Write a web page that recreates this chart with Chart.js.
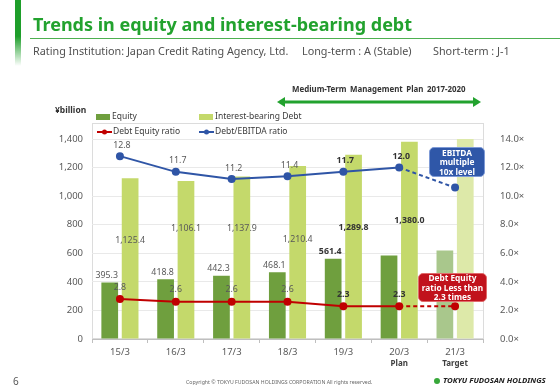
<!DOCTYPE html>
<html>
<head>
<meta charset="utf-8">
<script src="https://cdn.jsdelivr.net/npm/chart.js@4.4.1/dist/chart.umd.min.js"></script>
<style>
  body { margin: 0; width: 560px; height: 388px; background: #fff; position: relative; overflow: hidden; font-family: "Noto Sans", sans-serif; }
  #wrap { position: absolute; left: 0; top: 0; width: 560px; height: 388px; }
  .abs { position: absolute; white-space: nowrap; }
  .sidebar { left: 15px; top: 0; width: 6px; height: 66px; background: linear-gradient(#1e9e2a, #1e9e2a 55%, rgba(30,158,42,0)); }
  .title { left: 33px; top: 12px; font-size: 18px; line-height: 24px; font-weight: bold; color: #22a22e; }
  .rule { left: 30px; top: 38px; width: 530px; height: 1px; background: #4db050; }
  .sub { top: 43px; font-size: 10.8px; line-height: 15px; color: #505050; }
  .plan { left: 292px; top: 84px; font-size: 7.9px; font-weight: bold; color: #333; word-spacing: 1.5px; }
  .unit { left: 55px; top: 104px; font-size: 8.5px; font-weight: bold; color: #333; }
  .note { color: #fff; font-weight: bold; font-size: 8.3px; line-height: 9.5px; text-align: center; border-radius: 5px;
          box-sizing: border-box; display: flex; align-items: center; justify-content: center; }
  .blue { left: 429px; top: 147px; width: 56px; height: 30px; background: #2f57a8; border: 1px solid #7e9ad6; }
  .red { left: 418px; top: 273px; width: 69px; height: 29px; background: #c1121c; border: 1px solid #e06a6a; }
  .page { left: 13px; top: 374px; font-size: 10px; color: #555; }
  .copy { left: 186px; top: 378px; font-size: 5.2px; color: #666; }
  .logo { left: 443px; top: 375px; font-size: 7.8px; font-weight: bold; font-style: italic; color: #222; }
  .dot { left: 434px; top: 378px; width: 6px; height: 6px; border-radius: 50%; background: #38a83a; }
</style>
</head>
<body>
<div id="wrap"><canvas id="debtChart" width="560" height="388"></canvas></div>

<div class="abs sidebar"></div>
<div class="abs title">Trends in equity and interest-bearing debt</div>
<div class="abs rule"></div>
<div class="abs sub" style="left:33px">Rating Institution: Japan Credit Rating Agency, Ltd.</div>
<div class="abs sub" style="left:302px">Long-term : A (Stable)</div>
<div class="abs sub" style="left:433px">Short-term : J-1</div>

<div class="abs plan">Medium-Term Management Plan 2017-2020</div>
<svg class="abs" style="left:276px;top:95px" width="206" height="14">
  <line x1="8" y1="7" x2="198" y2="7" stroke="#22a22e" stroke-width="3"/>
  <polygon points="1,7 9,2 9,12" fill="#22a22e"/>
  <polygon points="205,7 197,2 197,12" fill="#22a22e"/>
</svg>
<div class="abs unit">¥billion</div>

<div class="abs note blue">EBITDA<br>multiple<br>10x level</div>
<div class="abs note red">Debt Equity<br>ratio Less than<br>2.3 times</div>

<div class="abs page">6</div>
<div class="abs copy">Copyright &copy; TOKYU FUDOSAN HOLDINGS CORPORATION All rights reserved.</div>
<div class="abs dot"></div>
<div class="abs logo">TOKYU FUDOSAN HOLDINGS</div>

<script>
// Datos del gráfico (¥billion y múltiplos)
const periods = ['15/3', '16/3', '17/3', '18/3', '19/3', '20/3', '21/3'];
const periodNotes = ['', '', '', '', '', 'Plan', 'Target'];
const equity = [395.3, 418.8, 442.3, 468.1, 561.4, 585, 620];
const debt = [1125.4, 1106.1, 1137.9, 1210.4, 1289.8, 1380.0, 1400];
const deRatio = [2.8, 2.6, 2.6, 2.6, 2.3, 2.3, 2.3];
const ebitdaRatio = [12.8, 11.7, 11.2, 11.4, 11.7, 12.0, 10.6];
const leftTicks = [0, 200, 400, 600, 800, 1000, 1200, 1400];
const rightTicks = [0, 2, 4, 6, 8, 10, 12, 14];

const lastIdx = periods.length - 1;
const fmt1 = v => v.toLocaleString('en-US', { minimumFractionDigits: 1, maximumFractionDigits: 1 });

// el último periodo (objetivo) va en tono pálido
const equityColors = periods.map((p, i) => i === lastIdx ? '#a9c78c' : '#6f9f3e');
const debtColors = periods.map((p, i) => i === lastIdx ? '#dde9a9' : '#c4d96b');
const dashLast = c => c.p1DataIndex === lastIdx ? [4, 3] : undefined;

// Marco del área y leyenda
const framePlugin = {
    id: 'frame',
    beforeDraw(chart) {
        const { ctx, chartArea } = chart;
        ctx.save();
        ctx.strokeStyle = '#dcdcdc';
        ctx.lineWidth = 1;
        ctx.strokeRect(chartArea.left + 0.5, chartArea.top - 15.5, chartArea.right - chartArea.left, chartArea.bottom - chartArea.top + 15);
        ctx.restore();
    },
    afterDraw(chart) {
        const ctx = chart.ctx;
        const slots = [[96, 117], [199, 117], [97, 132], [199, 132]];
        ctx.save();
        ctx.font = '8.5px "Noto Sans"';
        ctx.textBaseline = 'middle';
        chart.data.datasets.forEach((ds, i) => {
            const [x, y] = slots[i];
            ctx.fillStyle = Array.isArray(ds.backgroundColor) ? ds.backgroundColor[0] : ds.borderColor;
            if (ds.type === 'line') {
                ctx.strokeStyle = ds.borderColor;
                ctx.lineWidth = 2;
                ctx.beginPath(); ctx.moveTo(x, y); ctx.lineTo(x + 15, y); ctx.stroke();
                ctx.beginPath(); ctx.arc(x + 7.5, y, 2.5, 0, Math.PI * 2); ctx.fill();
            } else {
                ctx.fillRect(x, y - 3, 14, 6);
            }
            ctx.fillStyle = '#3a3a3a';
            ctx.fillText(ds.label, x + 16, y);
        });
        ctx.restore();
    }
};

// Etiquetas de valores y notas bajo los periodos
const labelPlugin = {
    id: 'valueLabels',
    afterDatasetsDraw(chart) {
        const ctx = chart.ctx;
        const y = chart.scales.y;
        const debtNudge = [-2, -16, -13, 4, -1, 0];
        ctx.save();
        ctx.textAlign = 'center';
        ctx.textBaseline = 'middle';
        chart.data.datasets.forEach((ds, di) => {
            const meta = chart.getDatasetMeta(di);
            meta.data.forEach((el, i) => {
                const v = ds.data[i];
                let x = el.x, ty = el.y, show = true;
                if (di === 0) { show = i <= 4; x -= 3; ty -= 7; }
                if (di === 1) { show = i <= 5; ty = y.getPixelForValue(v * 0.6) + debtNudge[i]; }
                if (di === 2) { show = i <= 5; ty -= 12; }
                if (di === 3) { show = i <= 5; x += 2; ty -= 11; }
                if (!show) return;
                const strong = i >= 4;
                ctx.font = (strong ? 'bold ' : '') + '8.8px "Noto Sans"';
                ctx.fillStyle = strong ? '#333' : '#595959';
                ctx.fillText(fmt1(v), x, ty);
            });
        });
        const xs = chart.scales.x;
        ctx.font = 'bold 8px "Noto Sans"';
        ctx.fillStyle = '#404040';
        periodNotes.forEach((n, i) => {
            if (n) ctx.fillText(n, xs.getPixelForValue(i), 364);
        });
        ctx.restore();
    }
};

const debtChart = new Chart(document.getElementById('debtChart'), {
    type: 'bar',
    data: {
        labels: periods,
        datasets: [
            { type: 'bar', label: 'Equity', data: equity, backgroundColor: equityColors, yAxisID: 'y', order: 2,
              categoryPercentage: 0.73, barPercentage: 0.82 },
            { type: 'bar', label: 'Interest-bearing Debt', data: debt, backgroundColor: debtColors, yAxisID: 'y', order: 2,
              categoryPercentage: 0.73, barPercentage: 0.82 },
            { type: 'line', label: 'Debt Equity ratio', data: deRatio, borderColor: '#c00000', backgroundColor: '#c00000',
              borderWidth: 2, pointRadius: 3, pointBackgroundColor: '#c00000', yAxisID: 'y2', order: 0,
              segment: { borderDash: dashLast } },
            { type: 'line', label: 'Debt/EBITDA ratio', data: ebitdaRatio, borderColor: '#2f55a6', backgroundColor: '#2f55a6',
              borderWidth: 2, pointRadius: 3, pointBackgroundColor: '#2f55a6', yAxisID: 'y2', order: 0,
              segment: { borderDash: dashLast } }
        ]
    },
    options: {
        responsive: false,
        animation: false,
        layout: { padding: { top: 139, left: 0, right: 0, bottom: 0 } },
        plugins: { legend: { display: false }, tooltip: { enabled: false } },
        scales: {
            x: {
                grid: { offset: true, drawOnChartArea: false, tickLength: 4, color: '#bfbfbf' },
                border: { color: '#bfbfbf' },
                ticks: { color: '#595959', font: { family: 'Noto Sans', size: 9.5 }, padding: 4 },
                afterFit: s => { s.height = 49; }
            },
            y: {
                position: 'left',
                min: 0, max: 1400,
                afterBuildTicks: s => { s.ticks = leftTicks.map(v => ({ value: v })); },
                grid: { color: '#e9e9e9', drawTicks: false },
                border: { display: false },
                ticks: { color: '#595959', font: { family: 'Noto Sans', size: 9.5 }, padding: 9,
                         callback: v => v.toLocaleString('en-US') },
                afterFit: s => { s.width = 92; }
            },
            y2: {
                position: 'right',
                min: 0, max: 14,
                afterBuildTicks: s => { s.ticks = rightTicks.map(v => ({ value: v })); },
                grid: { display: false },
                border: { display: false },
                ticks: { color: '#595959', font: { family: 'Noto Sans', size: 9.5 }, padding: 9,
                         callback: v => v.toFixed(1) + '×' },
                afterFit: s => { s.width = 77; }
            }
        }
    },
    plugins: [framePlugin, labelPlugin]
});
</script>
</body>
</html>
